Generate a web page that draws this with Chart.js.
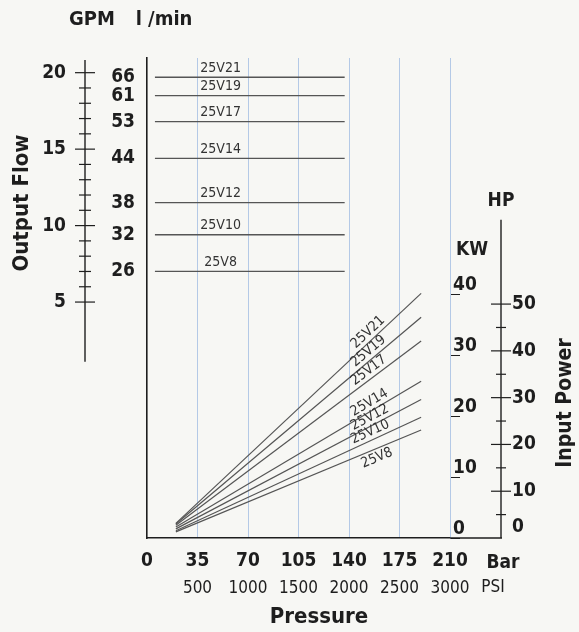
<!DOCTYPE html>
<html>
<head>
<meta charset="utf-8">
<title>25V pump curves - output flow and input power vs pressure</title>
<script src="https://cdn.jsdelivr.net/npm/chart.js@4.4.1/dist/chart.umd.min.js"></script>
<style>
  html, body { margin: 0; background: #f7f7f4; }
  canvas { display: block; }
</style>
</head>
<body>
<canvas id="chart" width="579" height="632"></canvas>
<script>
// Pump models, flow (top half) and power draw (bottom half) against pressure
const models = ['25V21', '25V19', '25V17', '25V14', '25V12', '25V10', '25V8'];
const flowGpm = [19.7, 18.5, 16.8, 14.4, 11.5, 9.4, 7.0];
const flowLmin = [66, 61, 53, 44, 38, 32, 26];
const flowBar = [5.5, 137];
const powerBar = [20, 190];
const powerKwStart = [2.4, 2.3, 2.1, 1.8, 1.5, 1.2, 1.0];
const powerKwEnd = [40.1, 36.2, 32.3, 25.7, 22.7, 19.8, 17.7];

// Axis ticks
const barTicks = [0, 35, 70, 105, 140, 175, 210];
const psiTicks = [500, 1000, 1500, 2000, 2500, 3000];
const gpmTicks = [5, 10, 15, 20];
const kwTicks = [0, 10, 20, 30, 40];
const hpTicks = [0, 10, 20, 30, 40, 50];

// Scale extents
const gpmRange = [-10.43, 20.96];
const kwMax = 78.7;
const hpMax = 102.6;
const gpmSpineEnd = 1.1;
const hpSpineTop = 68;

// Where the model tags sit (bar), and which power tags go under their line
const flowTagBar = 51;
const powerTagBar = 157;
const tagBelow = [false, false, false, false, false, false, true];

const BG = '#f7f7f4';
const INK = '#1e1e1e';
const LINE = '#555555';
const TAG = '#333333';
const GRID = '#b4c9e6';
const COND = "'Liberation Sans Narrow', 'DejaVu Sans Condensed', sans-serif";
const tickFont = { family: COND, size: 19, weight: 'bold' };

function line(ctx, x1, y1, x2, y2, w) {
  ctx.lineWidth = w;
  ctx.beginPath();
  ctx.moveTo(x1, y1);
  ctx.lineTo(x2, y2);
  ctx.stroke();
}

function label(ctx, str, x, y, font, rot) {
  ctx.save();
  ctx.translate(x, y);
  if (rot) ctx.rotate(rot);
  ctx.font = font;
  ctx.fillText(str, 0, 0);
  ctx.restore();
}

const decorations = {
  id: 'decorations',
  beforeDraw(chart) {
    const { ctx, width, height } = chart;
    ctx.save();
    ctx.fillStyle = BG;
    ctx.fillRect(0, 0, width, height);
    ctx.restore();
  },
  afterDatasetsDraw(chart) {
    const { ctx, scales: { x } } = chart;
    ctx.save();
    ctx.fillStyle = TAG;
    ctx.font = `14px ${COND}`;
    ctx.textAlign = 'center';
    models.forEach((m, i) => {
      // flow tag just above its line
      const [a, b] = chart.getDatasetMeta(i).data;
      const fx = x.getPixelForValue(flowTagBar);
      const fy = a.y + (b.y - a.y) * (fx - a.x) / (b.x - a.x);
      ctx.textBaseline = 'bottom';
      ctx.fillText(m, fx, fy - 2);
      // power tag follows the slope
      const [c, d] = chart.getDatasetMeta(models.length + i).data;
      const px = x.getPixelForValue(powerTagBar);
      const py = c.y + (d.y - c.y) * (px - c.x) / (d.x - c.x);
      ctx.save();
      ctx.translate(px, py);
      ctx.rotate(Math.atan2(d.y - c.y, d.x - c.x));
      ctx.textBaseline = tagBelow[i] ? 'top' : 'bottom';
      ctx.fillText(m, 0, tagBelow[i] ? 2 : -1);
      ctx.restore();
    });
    ctx.restore();
  },
  afterDraw(chart) {
    const { ctx, chartArea, scales: { x, yGPM, yHP } } = chart;
    ctx.save();
    ctx.strokeStyle = INK;
    ctx.fillStyle = INK;

    // GPM spine with crossing ticks
    const gx = yGPM.right - 10;
    line(ctx, gx, chartArea.top + 2, gx, yGPM.getPixelForValue(gpmSpineEnd), 1.4);
    for (let v = gpmTicks[0]; v <= gpmTicks[gpmTicks.length - 1]; v++) {
      const y = yGPM.getPixelForValue(v);
      const half = gpmTicks.includes(v) ? 10 : 6;
      line(ctx, gx - half, y, gx + half, y, 1.2);
    }

    // HP spine with crossing ticks
    const hx = yHP.left;
    line(ctx, hx, yHP.getPixelForValue(hpSpineTop), hx, chartArea.bottom, 1.4);
    for (let v = 5; v <= hpTicks[hpTicks.length - 1]; v += 5) {
      const y = yHP.getPixelForValue(v);
      const half = v % 10 ? 5 : 10;
      line(ctx, hx - half, y, hx + half, y, 1.2);
    }

    // base line carries on to the HP spine
    line(ctx, chartArea.right, chartArea.bottom, hx + 1, chartArea.bottom, 1.6);

    ctx.textAlign = 'center';
    ctx.textBaseline = 'middle';
    const bold = s => `bold ${s}px ${COND}`;
    label(ctx, 'GPM', 92, 20, bold(20));
    label(ctx, 'l /min', 164, 20, bold(20));
    label(ctx, 'Output Flow', 22, 203, bold(22), -Math.PI / 2);
    label(ctx, 'HP', hx, 201, bold(19));
    label(ctx, 'KW', 472, 250, bold(19));
    label(ctx, 'Input Power', 566, 403, bold(21), -Math.PI / 2);
    label(ctx, 'Bar', x.right + 53, 563, bold(19));
    label(ctx, 'PSI', x.right + 43, 588, `17px ${COND}`);
    label(ctx, 'Pressure', 319, 617, bold(22));
    ctx.restore();
  }
};

const flowSets = models.map((m, i) => ({
  label: m + ' flow',
  data: flowBar.map(p => ({ x: p, y: flowGpm[i] })),
  yAxisID: 'yLmin',
  borderColor: LINE,
  borderWidth: 1.3,
  pointRadius: 0
}));

const powerSets = models.map((m, i) => ({
  label: m + ' power',
  data: [{ x: powerBar[0], y: powerKwStart[i] }, { x: powerBar[1], y: powerKwEnd[i] }],
  yAxisID: 'yKW',
  borderColor: LINE,
  borderWidth: 1.2,
  pointRadius: 0
}));

new Chart(document.getElementById('chart'), {
  type: 'line',
  data: { datasets: [...flowSets, ...powerSets] },
  options: {
    responsive: false,
    animation: false,
    layout: { padding: { top: 58, left: 0, right: 0, bottom: 0 } },
    plugins: { legend: { display: false }, tooltip: { enabled: false } },
    scales: {
      x: {
        type: 'linear', position: 'bottom', weight: 0, min: 0, max: 210,
        afterBuildTicks: s => { s.ticks = barTicks.map(v => ({ value: v })); },
        afterFit: s => { s.height = 36; },
        grid: {
          color: c => (c.tick && c.tick.value === 0 ? 'rgba(0,0,0,0)' : GRID),
          lineWidth: 1,
          drawTicks: false
        },
        border: { color: INK, width: 1.6 },
        ticks: { font: tickFont, color: INK, padding: 12, autoSkip: false, maxRotation: 0, callback: v => String(v) }
      },
      x2: {
        type: 'linear', axis: 'x', position: 'bottom', weight: 1, min: 0, max: 3000,
        afterBuildTicks: s => { s.ticks = psiTicks.map(v => ({ value: v })); },
        afterFit: s => { s.height = 58; },
        grid: { display: false, drawTicks: false },
        border: { display: false },
        ticks: { font: { family: COND, size: 17 }, color: INK, padding: 4, autoSkip: false, maxRotation: 0, callback: v => String(v) }
      },
      yLmin: {
        type: 'linear', axis: 'y', position: 'left', weight: 0, min: gpmRange[0], max: gpmRange[1],
        afterBuildTicks: s => { s.ticks = flowGpm.slice().sort((a, b) => a - b).map(v => ({ value: v })); },
        afterFit: s => { s.width = 52; },
        grid: { display: false, drawTicks: false },
        border: { color: INK, width: 1.6 },
        ticks: { font: tickFont, color: INK, padding: 12, autoSkip: false, callback: v => String(flowLmin[flowGpm.indexOf(v)]) }
      },
      yGPM: {
        type: 'linear', axis: 'y', position: 'left', weight: 1, min: gpmRange[0], max: gpmRange[1],
        afterBuildTicks: s => { s.ticks = gpmTicks.map(v => ({ value: v })); },
        afterFit: s => { s.width = 95; },
        grid: { display: false, drawTicks: false },
        border: { display: false },
        ticks: { font: tickFont, color: INK, padding: 29, callback: v => String(v) }
      },
      yKW: {
        type: 'linear', axis: 'y', position: 'right', weight: 0, min: 0, max: kwMax,
        afterBuildTicks: s => { s.ticks = kwTicks.map(v => ({ value: v })); },
        afterFit: s => { s.width = 51; },
        grid: { drawOnChartArea: false, drawTicks: true, tickLength: 10, color: INK, tickColor: INK, tickWidth: 1 },
        border: { color: GRID, width: 1 },
        ticks: { font: tickFont, color: INK, padding: -7, labelOffset: -9, callback: v => String(v) }
      },
      yHP: {
        type: 'linear', axis: 'y', position: 'right', weight: 1, min: 0, max: hpMax,
        afterBuildTicks: s => { s.ticks = hpTicks.map(v => ({ value: v })); },
        afterFit: s => { s.width = 78; },
        grid: { display: false, drawTicks: false },
        border: { display: false },
        ticks: { font: tickFont, color: INK, padding: 11, callback: v => (v === 0 ? ['0', ''] : String(v)) }
      }
    }
  },
  plugins: [decorations]
});
</script>
</body>
</html>
